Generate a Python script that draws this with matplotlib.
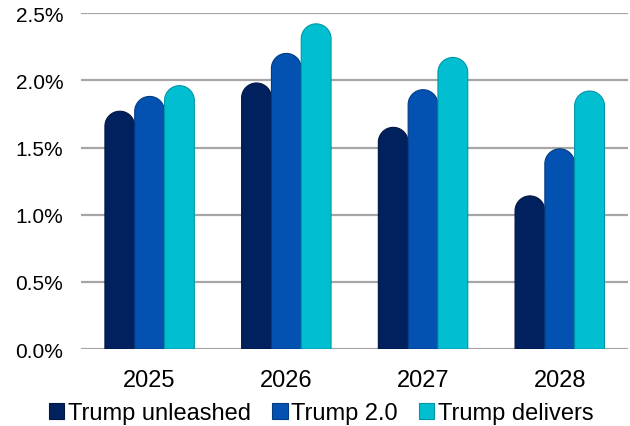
import matplotlib.pyplot as plt
from matplotlib.patches import PathPatch
from matplotlib.path import Path
from matplotlib.ticker import FuncFormatter
import numpy as np

plt.rcParams['font.family'] = ['Liberation Sans', 'DejaVu Sans']

# Growth scenarios by year (%)
years = ['2025', '2026', '2027', '2028']
series_names = ['Trump unleashed', 'Trump 2.0', 'Trump delivers']
unleashed = [1.77, 1.98, 1.65, 1.14]
trump_2_0 = [1.88, 2.20, 1.93, 1.49]
delivers = [1.96, 2.42, 2.17, 1.92]
colors = ['#01215E', '#0352B2', '#01BED1']
edges = ['#011640', '#023C82', '#0195A6']

fig = plt.figure(figsize=(6.3, 4.27), dpi=100)
ax = fig.add_axes([0.129, 0.180, 0.868, 0.787])

x = np.arange(len(years))
bar_w = 0.218
ax.set_xlim(-0.5, len(years) - 0.5)
ax.set_ylim(0, 2.5)

# size of one pixel in data units, used to make the caps round on screen
bbox = ax.get_position()
fig_w, fig_h = fig.get_size_inches() * fig.dpi
px_x = 4.0 / (bbox.width * fig_w)
px_y = 2.5 / (bbox.height * fig_h)
cap_h = (bar_w / 2) / px_x * px_y


def capsule(left, width, top):
    # flat bottom at zero, half-ellipse on top
    cx = left + width / 2
    t = np.linspace(np.pi, 0, 40)
    arc_x = cx + width / 2 * np.cos(t)
    arc_y = top - cap_h + cap_h * np.sin(t)
    xs = np.concatenate([[left], arc_x, [left + width, left]])
    ys = np.concatenate([[0], arc_y, [0, 0]])
    verts = np.column_stack([xs, ys])
    codes = [Path.MOVETO] + [Path.LINETO] * (len(verts) - 2) + [Path.CLOSEPOLY]
    return Path(verts, codes)


for i, vals in enumerate([unleashed, trump_2_0, delivers]):
    for xi, v in zip(x, vals):
        left = xi + (i - 1) * bar_w - bar_w / 2
        ax.add_patch(PathPatch(capsule(left, bar_w, v), facecolor=colors[i],
                               edgecolor=edges[i], linewidth=0.8, zorder=3))
    # proxy for legend
    ax.bar([np.nan], [np.nan], color=colors[i], edgecolor=edges[i],
           linewidth=0.8, label=series_names[i])

ax.set_yticks(np.arange(0, 2.51, 0.5))
ax.yaxis.set_major_formatter(FuncFormatter(lambda v, _: f"{v:.1f}%"))
ax.set_xticks(x)
ax.set_xticklabels(years)
ax.tick_params(axis='both', length=0, colors='#000000')
ax.tick_params(axis='y', pad=13, labelsize=15)
ax.tick_params(axis='x', pad=14, labelsize=17)
ax.grid(axis='y', color='#A6A6A6', linewidth=1.6, zorder=0)
ax.set_axisbelow(True)
for s in ax.spines.values():
    s.set_visible(False)

handles, labels = ax.get_legend_handles_labels()
fig.legend(handles, labels, loc='center', bbox_to_anchor=(0.51, 0.03), ncol=3,
           frameon=False, fontsize=17, handlelength=0.65, handleheight=0.65,
           handletextpad=0.15, columnspacing=0.9, borderaxespad=0, borderpad=0)

fig.savefig('out.png', dpi=100)
